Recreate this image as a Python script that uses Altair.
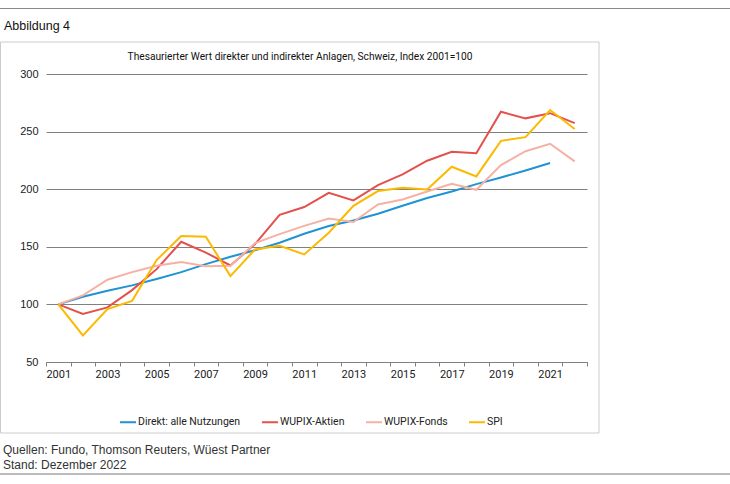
import altair as alt
import pandas as pd

years = list(range(2001, 2023))
direkt = [100, 106.6, 111.8, 116.5, 122.0, 128.0, 135.0, 141.3, 147.0, 153.5, 161.3, 168.0,
          172.9, 178.7, 185.6, 192.3, 198.0, 204.4, 210.2, 216.3, 222.7, None]
aktien = [100, 91.8, 97.4, 112.4, 130.6, 154.4, 145.0, 133.8, 152.3, 177.8, 184.5, 196.9,
          190.3, 203.6, 212.8, 224.7, 232.5, 231.3, 267.2, 261.5, 266.0, 257.4]
fonds = [100, 107.8, 121.4, 128.0, 133.5, 136.7, 133.2, 133.5, 153.2, 161.0, 168.2, 174.6,
         171.5, 186.8, 191.1, 198.0, 204.7, 199.5, 220.9, 233.0, 239.4, 224.1]
spi = [100, 73.1, 96.0, 103.1, 138.5, 159.3, 158.7, 124.6, 147.7, 150.9, 143.4, 162.2,
       185.6, 198.4, 201.2, 199.8, 219.5, 211.1, 242.0, 245.2, 268.7, 252.2]

series_names = ["Direkt: alle Nutzungen", "WUPIX-Aktien", "WUPIX-Fonds", "SPI"]
series_colors = ["#1f93d3", "#e4504c", "#f5b1a4", "#fbb900"]
y_ticks = [50, 100, 150, 200, 250, 300]

title_text = "Thesaurierter Wert direkter und indirekter Anlagen, Schweiz, Index 2001=100"
fig_label = "Abbildung 4"
source_text = "Quellen: Fundo, Thomson Reuters, Wüest Partner"
date_text = "Stand: Dezember 2022"

rows = []
for name, vals in zip(series_names, [direkt, aktien, fonds, spi]):
    for yr, v in zip(years, vals):
        if v is not None:
            rows.append({"Jahr": yr, "Wert": v, "Serie": name})
df = pd.DataFrame(rows)

COND = "Roboto, Liberation Sans, sans-serif"
REG = "Liberation Sans, Arial, sans-serif"

W, H = 541, 288
PL, PT = 46, 74

boundaries = [y - 0.5 for y in years] + [years[-1] + 0.5]
odd_years = [y for y in years if y % 2 == 1]

xscale = alt.Scale(domain=[years[0] - 0.5, years[-1] + 0.5], nice=False, zero=False)
yscale = alt.Scale(domain=[50, 300], nice=False, zero=False)
yaxis = alt.Axis(values=y_ticks, title=None, grid=True, gridColor="#808080",
                 gridWidth=1, domain=False, ticks=False, labelPadding=8,
                 labelFont=REG, labelFontSize=11, labelColor="#222")

# layer providing tick marks at category boundaries (no labels)
tick_layer = alt.Chart(df).mark_line(opacity=0).encode(
    x=alt.X("Jahr:Q", scale=xscale,
            axis=alt.Axis(values=boundaries, title=None, grid=False, labels=False,
                          orient="bottom", tickColor="#808080", tickSize=4,
                          domainColor="#808080")),
    y=alt.Y("Wert:Q", scale=yscale, axis=yaxis),
    detail="Serie:N",
)

lines = alt.Chart(df).mark_line(strokeWidth=2).encode(
    x=alt.X("Jahr:Q", scale=xscale,
            axis=alt.Axis(values=odd_years, title=None, grid=False, format="d",
                          orient="bottom", ticks=False, domain=False,
                          labelOverlap=False, labelFlush=False,
                          labelFont=COND, labelFontSize=11, labelColor="#222",
                          labelPadding=6)),
    y=alt.Y("Wert:Q", scale=yscale, axis=yaxis),
    stroke=alt.Stroke("Serie:N",
                      scale=alt.Scale(domain=series_names, range=series_colors),
                      sort=series_names,
                      legend=alt.Legend(title=None, orient="none", direction="horizontal",
                                        legendX=73, legendY=339,
                                        symbolType="stroke", symbolSize=256,
                                        symbolStrokeWidth=2, labelOffset=1,
                                        columnPadding=17, labelFont=COND,
                                        labelFontSize=10.5, labelColor="#222")),
    order="Jahr:Q",
)

box = alt.Chart(pd.DataFrame({"a": [0]})).mark_rect(
    fill="transparent", stroke="#cccccc", strokeWidth=1
).encode(x=alt.value(-PL + 0.5), x2=alt.value(599 - PL), y=alt.value(42 - PT), y2=alt.value(433 - PT))

top_line = alt.Chart(pd.DataFrame({"a": [0]})).mark_rule(color="#8a8a8a", strokeWidth=1).encode(
    x=alt.value(-PL), x2=alt.value(730 - PL), y=alt.value(8.5 - PT))
bottom_line = alt.Chart(pd.DataFrame({"a": [0]})).mark_rule(color="#bbbbbb", strokeWidth=2).encode(
    x=alt.value(-PL), x2=alt.value(730 - PL), y=alt.value(474 - PT))


def txt(t, x, y, font, size, align="left", color="#222"):
    return alt.Chart(pd.DataFrame({"t": [t]})).mark_text(
        font=font, fontSize=size, align=align, baseline="middle", color=color
    ).encode(text="t:N", x=alt.value(x), y=alt.value(y))


fig = txt(fig_label, 4 - PL, 25.5 - PT, REG, 12.5, color="#111")
title = txt(title_text, 300 - PL, 56.5 - PT, COND, 10.2, align="center", color="#111")
src = txt(source_text, 3 - PL, 450 - PT, REG, 12, color="#333")
stand = txt(date_text, 3 - PL, 465 - PT, REG, 12, color="#333")

chart = alt.layer(box, top_line, bottom_line, tick_layer, lines, fig, title, src, stand).resolve_axis(
    x="independent"
).properties(
    width=W, height=H,
    autosize=alt.AutoSizeParams(type="none"),
    padding={"left": PL, "top": PT, "right": 730 - PL - W, "bottom": 484 - PT - H},
).configure(background="white", view=alt.ViewConfig(stroke=None))

chart.save("out.html", embed_options={"renderer": "svg", "actions": False})
